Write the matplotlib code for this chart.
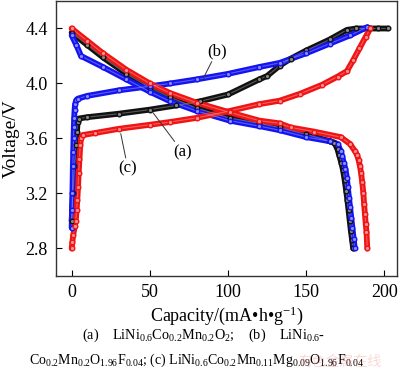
import matplotlib
matplotlib.use("Agg")
import matplotlib.pyplot as plt

plt.rcParams["font.family"] = ["Liberation Serif", "DejaVu Serif"]
plt.rcParams["mathtext.fontset"] = "custom"
plt.rcParams["mathtext.rm"] = "Liberation Serif"
plt.rcParams["mathtext.it"] = "Liberation Serif:italic"

# charge curves (capacity mAh/g, voltage V)
cap_a_chg = [0, 0.8, 1.8, 2.8, 3.4, 3.8, 4.5, 10, 30, 50, 66.7, 82, 100, 120, 125, 133, 140, 150, 165, 176, 182, 190, 196, 202]
v_a_chg = [3.0, 3.2, 3.4, 3.55, 3.65, 3.72, 3.745, 3.755, 3.78, 3.81, 3.84, 3.87, 3.92, 4.03, 4.055, 4.13, 4.18, 4.24, 4.32, 4.39, 4.40, 4.40, 4.40, 4.40]

cap_b_chg = [0, 0.3, 0.5, 0.8, 1.0, 1.2, 1.4, 1.6, 1.9, 2.2, 3.0, 4, 10, 30, 50, 63, 80, 100, 120, 133, 150, 165, 178, 189]
v_b_chg = [2.95, 3.08, 3.2, 3.4, 3.5, 3.6, 3.68, 3.75, 3.81, 3.85, 3.88, 3.89, 3.91, 3.95, 3.98, 4.00, 4.03, 4.07, 4.12, 4.15, 4.22, 4.29, 4.35, 4.41]

cap_c_chg = [0, 0.5, 1.0, 2.0, 2.6, 3.2, 3.6, 4.1, 4.5, 5.0, 5.5, 6.0, 7, 15, 30, 50, 63, 80, 101, 120, 133, 146, 160, 170, 176, 180, 184, 188, 191]
v_c_chg = [2.8, 2.85, 2.9, 2.96, 3.0, 3.08, 3.15, 3.25, 3.35, 3.45, 3.55, 3.6, 3.625, 3.64, 3.67, 3.70, 3.72, 3.75, 3.80, 3.85, 3.875, 3.925, 3.99, 4.05, 4.09, 4.17, 4.255, 4.34, 4.40]

# discharge curves
cap_a_dis = [0, 10, 20, 35, 50, 63, 80, 101, 120, 133, 150, 165, 168, 170, 171, 172.5, 173.5, 174.5, 175.5, 176.3, 177, 177.8, 178.5, 179.3, 180]
v_a_dis = [4.37, 4.28, 4.19, 4.07, 3.97, 3.90, 3.82, 3.75, 3.71, 3.68, 3.63, 3.58, 3.57, 3.52, 3.48, 3.42, 3.37, 3.30, 3.22, 3.15, 3.08, 3.00, 2.93, 2.86, 2.80]

cap_b_dis = [0, 3, 6, 20, 35, 50, 63, 80, 101, 120, 133, 150, 165, 170, 172, 173, 174, 175, 176, 176.5, 177.3, 178, 178.8, 179.5, 180.3, 181]
v_b_dis = [4.35, 4.28, 4.20, 4.12, 4.03, 3.94, 3.87, 3.80, 3.73, 3.69, 3.66, 3.61, 3.58, 3.56, 3.51, 3.47, 3.42, 3.38, 3.31, 3.25, 3.17, 3.10, 3.02, 2.95, 2.87, 2.80]

cap_c_dis = [0, 10, 20, 35, 50, 63, 80, 101, 120, 133, 140, 155, 172, 178, 181, 182.5, 183.5, 184.3, 185, 185.8, 186.5, 187, 187.5, 188, 188.5, 189]
v_c_dis = [4.40, 4.31, 4.22, 4.10, 4.00, 3.93, 3.86, 3.79, 3.73, 3.71, 3.68, 3.65, 3.61, 3.56, 3.51, 3.48, 3.44, 3.40, 3.35, 3.28, 3.20, 3.12, 3.05, 2.98, 2.92, 2.80]

x_ticks = [0, 50, 100, 150, 200]
y_ticks = [2.8, 3.2, 3.6, 4.0, 4.4]

series = [
    (cap_a_chg, v_a_chg, cap_a_dis, v_a_dis, "#111111", "#8a8a8a"),
    (cap_b_chg, v_b_chg, cap_b_dis, v_b_dis, "#1414f0", "#8c8cff"),
    (cap_c_chg, v_c_chg, cap_c_dis, v_c_dis, "#f01414", "#ff9090"),
]

fig = plt.figure(figsize=(4.0, 3.83), dpi=100)
ax = fig.add_axes([0.14, 0.2794, 0.8525, 0.718])

for cap_c, v_c, cap_d, v_d, col, light in series:
    for xs, ys in ((cap_c, v_c), (cap_d, v_d)):
        ax.plot(xs, ys, color=col, lw=4.2, solid_capstyle="round", zorder=2)
        ax.plot(xs, ys, color=light, lw=0.8, alpha=0.6, zorder=3)
        ax.plot(xs, ys, ls="none", marker="o", ms=3.3, mfc=light,
                mec=col, mew=1.0, zorder=4)

ax.set_xlim(-10, 208)
ax.set_ylim(2.6, 4.6)
ax.set_xticks(x_ticks)
ax.set_yticks(y_ticks)
ax.set_yticklabels(["2.8", "3.2", "3.6", "4.0", "4.4"])
ax.tick_params(direction="in", length=4, labelsize=13, pad=6)
for sp in ax.spines.values():
    sp.set_color("#333333")
    sp.set_linewidth(1.0)

ax.set_xlabel("Capacity/(mA\u2022h\u2022g$^{-1}$)", fontsize=13, labelpad=2)
ax.set_ylabel("Voltage/V", fontsize=14, labelpad=4)

line_kw = dict(arrowstyle="-", color="#333333", lw=0.7, shrinkA=0, shrinkB=0)
ax.annotate("(b)", xy=(84, 4.034), xytext=(93, 4.237), fontsize=12,
            ha="center", va="center", arrowprops=line_kw)
ax.annotate("(a)", xy=(52, 3.788), xytext=(71, 3.50), fontsize=12,
            ha="center", va="center", arrowprops=line_kw)
ax.annotate("(c)", xy=(31.4, 3.635), xytext=(36, 3.38), fontsize=12,
            ha="center", va="center", arrowprops=line_kw)

fig.text(0.51, 0.125,
         "(a)    LiNi$_{0.6}$Co$_{0.2}$Mn$_{0.2}$O$_{2}$;    (b)    LiNi$_{0.6}$-",
         ha="center", va="center", fontsize=10.3)
fig.text(0.49, 0.06,
         "Co$_{0.2}$Mn$_{0.2}$O$_{1.96}$F$_{0.04}$; (c) LiNi$_{0.6}$Co$_{0.2}$"
         "Mn$_{0.11}$Mg$_{0.09}$O$_{1.96}$F$_{0.04}$",
         ha="center", va="center", fontsize=10)
fig.text(0.85, 0.055, "有色金属在线", ha="center", va="center", fontsize=10,
         color="#f08080", alpha=0.3, family=["Noto Sans CJK SC", "DejaVu Sans"])

fig.savefig("out.png", dpi=100)
